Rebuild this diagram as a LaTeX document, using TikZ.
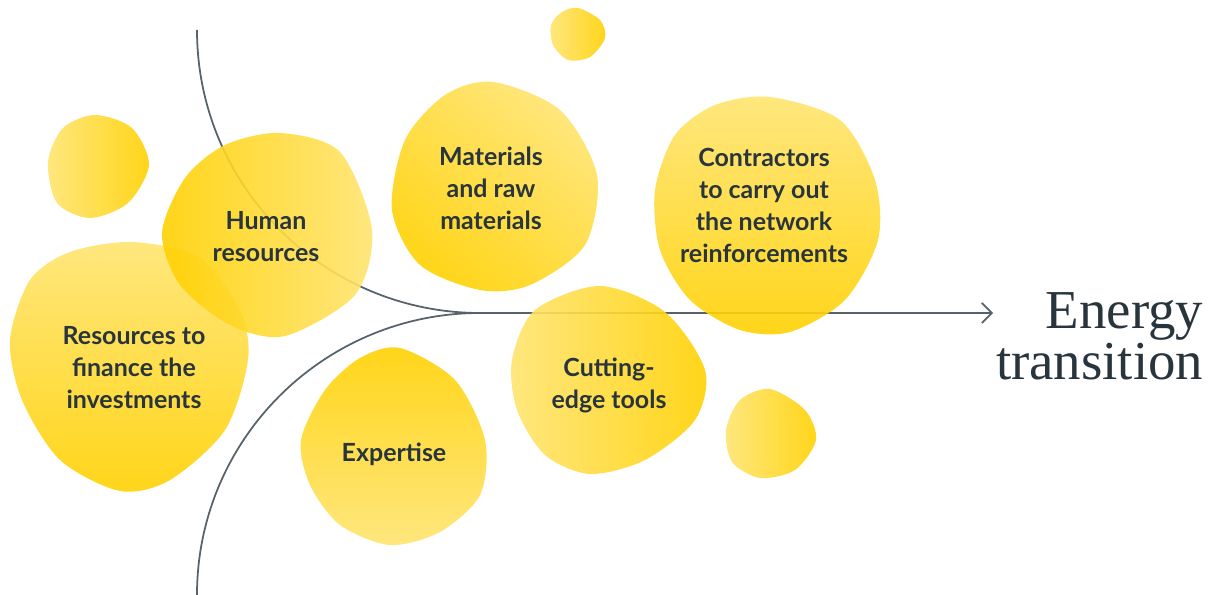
\documentclass[tikz,border=0pt]{standalone}
\usepackage{fontspec}
\usepackage{tikz}
\usetikzlibrary{arrows.meta,calc}
\newfontfamily\blobfont{Lato}
\newfontfamily\goalfont{Liberation Serif}
\definecolor{sun}{HTML}{FFD100}
\definecolor{pale}{HTML}{FFE470}
\definecolor{ink}{HTML}{29353D}
\definecolor{wire}{HTML}{56636B}

\begin{document}
\begin{tikzpicture}[x=0.01cm,y=-0.01cm,
	blob/.style={fill opacity=0.9},
	lbl/.style={text=ink,align=center,font=\blobfont\bfseries\fontsize{7.1}{9.1}\selectfont},
	wirestyle/.style={draw=wire,line width=0.5pt}]
		\useasboundingbox (0,0) rectangle (1215,595);
		% Linien
		\coordinate (top) at (197,30);
		\coordinate (bottom) at (197,595);
		\coordinate (join) at (480,313);
		\coordinate (tip) at (993,313);
		\draw[wirestyle] (top) .. controls +(0,156) and +(-156,0) .. (join);
		\draw[wirestyle] (bottom) .. controls +(0,-156) and +(-156,0) .. (join);
		\draw[wirestyle,-{Straight Barb[length=1mm,width=2mm]}] (join) -- (tip);
		% Blasen
		\shade[blob,left color=pale,right color=sun] plot[smooth cycle] coordinates {(95,115) (132,128) (149,165) (128,203) (90,218) (57,203) (48,162) (63,128)};
		\shade[blob,top color=pale,bottom color=sun] plot[smooth cycle] coordinates {(133,242) (200,258) (240,310) (248,360) (225,430) (170,480) (120,491) (60,460) (22,400) (10,340) (30,280) (70,252)};
		\shade[blob,left color=sun,right color=pale] plot[smooth cycle] coordinates {(280,133) (340,152) (372,230) (355,295) (285,336) (230,325) (180,285) (162,233) (185,178) (225,145)};
		\shade[blob,top color=pale,bottom color=sun,shading angle=-40] plot[smooth cycle] coordinates {(493,82) (560,110) (597,175) (585,245) (530,285) (480,290) (420,265) (392,210) (405,140) (445,95)};
		\shade[blob,left color=pale,right color=sun] plot[smooth cycle] coordinates {(578,8) (600,20) (605,38) (590,57) (568,60) (553,45) (551,25) (562,12)};
		\shade[blob,top color=pale,bottom color=sun] plot[smooth cycle] coordinates {(770,97) (840,120) (875,180) (878,240) (845,300) (790,332) (740,330) (690,300) (660,250) (655,190) (675,135) (715,105)};
		\shade[blob,left color=pale,right color=sun] plot[smooth cycle] coordinates {(600,286) (665,312) (705,370) (695,420) (645,460) (590,474) (545,455) (517,410) (512,360) (535,310)};
		\shade[blob,top color=sun,bottom color=pale] plot[smooth cycle] coordinates {(400,348) (455,380) (485,440) (480,495) (440,532) (390,545) (340,525) (310,485) (301,440) (325,390) (360,358)};
		\shade[blob,left color=pale,right color=sun] plot[smooth cycle] coordinates {(770,389) (805,410) (816,440) (795,470) (760,478) (732,462) (726,430) (740,400)};
		% Texte
		\node[lbl] (human) at (266,237) {Human\\resources};
		\node[lbl] (finance) at (134,368) {Resources to\\finance the\\investments};
		\node[lbl] (materials) at (491,188) {Materials\\and raw\\materials};
		\node[lbl] (contractors) at (764,205) {Contractors\\to carry out\\the network\\reinforcements};
		\node[lbl] (cutting) at (609,385) {Cutting-\\edge tools};
		\node[lbl] (expertise) at (394,454) {Expertise};
		\node[text=ink,align=right,anchor=east,inner sep=0pt,font=\goalfont\fontsize{15.6}{14.6}\selectfont] (goal) at (1204,336) {Energy\\transition};
		\end{tikzpicture}
\end{document}
